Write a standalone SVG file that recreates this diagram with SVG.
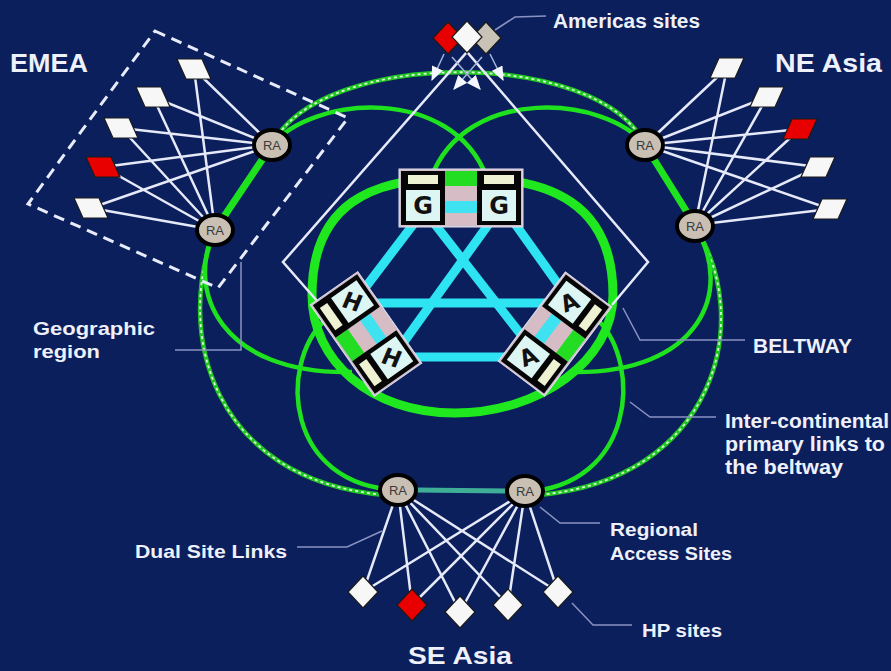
<svg xmlns="http://www.w3.org/2000/svg" width="891" height="671" viewBox="0 0 891 671">
<style>
.lbl{fill:#eef0fa;font-family:"Liberation Sans",Arial,sans-serif;font-weight:bold}
.ldr{stroke:#8a92c2;stroke-width:1.5;fill:none}
.lnk{stroke:#e6e9f8;stroke-width:2.5;fill:none;stroke-linecap:round}
.wl{stroke:#e6e9f8;stroke-width:2.5;fill:none}
.thin{stroke:#a4b4dc;stroke-width:1.5;fill:none}
.grn{stroke:#1fe21f;fill:none;stroke-width:4.5}
.thick{stroke:#1fe21f;fill:none;stroke-width:7;stroke-linecap:round}
.belt{stroke:#1fe81f;fill:none;stroke-width:9}
.dbase{stroke:#22c622;fill:none;stroke-width:4.5}
.ddot{stroke:#d4f8d4;fill:none;stroke-width:1.8;stroke-dasharray:3 3}
.cy{stroke:#2fe4f2;stroke-width:9;fill:none}
.ra ellipse{fill:#c9bfb3;stroke:#000;stroke-width:4}
.ra text{font-family:"Liberation Sans",Arial,sans-serif;font-size:13px;fill:#3a3a3a;text-anchor:middle}
.sw{fill:#f7f7f7;stroke:#1a1a1a;stroke-width:1.2}
.sr{fill:#e80000;stroke:#1a1a1a;stroke-width:1.2}
.sg{fill:#c9c2b6;stroke:#1a1a1a;stroke-width:1.2}
.let{font-family:"DejaVu Sans",sans-serif;font-weight:bold;font-size:24px;fill:#111;text-anchor:middle}
</style>
<defs>
 <polygon id="pe" points="-17,-10 8,-10 17,10 -8,10"/>
 <polygon id="pn" points="-8,-10 17,-10 8,10 -17,10"/>
 <polygon id="dm" points="0,-16 15,0 0,16 -15,0"/>
 <g id="stk">
  <rect x="-62" y="-29" width="124" height="58" fill="#cdbfcc" stroke="#e6e0ee" stroke-width="1"/>
  <rect x="-16" y="-27" width="32" height="15" fill="#22dd22"/>
  <rect x="-16" y="-12" width="32" height="15" fill="#d6bcc4"/>
  <rect x="-16" y="3" width="32" height="12" fill="#3ee2f0"/>
  <rect x="-16" y="15" width="32" height="12" fill="#d6bcc4"/>
  <rect x="-60" y="-27" width="44" height="54" fill="#050505"/>
  <rect x="-53" y="-23" width="30" height="9" fill="#eef2d2"/>
  <rect x="-55" y="-8" width="34" height="31" fill="#def6f3"/>
  <rect x="16" y="-27" width="44" height="54" fill="#050505"/>
  <rect x="23" y="-23" width="30" height="9" fill="#eef2d2"/>
  <rect x="21" y="-8" width="34" height="31" fill="#def6f3"/>
 </g>
 <marker id="ah" viewBox="0 0 12 10" refX="11" refY="5" markerWidth="15" markerHeight="12" markerUnits="userSpaceOnUse" orient="auto">
  <path d="M0,0 L12,5 L0,10 z" fill="#f4f6ff"/>
 </marker>
</defs>
<rect width="891" height="671" fill="#0b1f5c"/>

<g id="connectors">
 <g id="outer-ring">
  <path class="dbase" d="M272 145 C320 48 600 48 645 145"/>
  <path class="ddot" d="M272 145 C320 48 600 48 645 145"/>
  <path class="dbase" d="M215 230 C175 330 210 480 385 495"/>
  <path class="ddot" d="M215 230 C175 330 210 480 385 495"/>
  <path class="dbase" d="M695 227 C755 320 715 480 538 495"/>
  <path class="ddot" d="M695 227 C755 320 715 480 538 495"/>
 </g>
 <g id="regional-loops">
  <path class="grn" d="M272 145 C312 96 452 84 487 178"/>
  <path class="grn" d="M215 230 C185 290 220 375 352 372"/>
  <path class="grn" d="M645 145 C606 96 466 84 431 178"/>
  <path class="grn" d="M695 227 C735 290 700 375 570 372"/>
  <path class="grn" d="M398 490 C285 485 278 365 325 320"/>
  <path class="grn" d="M525 492 C635 485 642 365 598 320"/>
 </g>
 <path id="beltway" class="belt" d="M461 178 C370 176 312 205 312 295 C312 360 370 413 455 413 C540 413 613 360 613 295 C613 205 552 176 461 178 Z"/>
 <path class="thick" d="M272 145 L215 230"/>
 <path class="thick" d="M645 145 L695 225"/>
 <path d="M415 490 L508 491" stroke="#3fae96" stroke-width="5" fill="none"/>
 <g id="mesh">
  <path class="cy" d="M428 205 L352 305"/>
  <path class="cy" d="M416 200 L533 350"/>
  <path class="cy" d="M506 200 L398 350"/>
  <path class="cy" d="M498 200 L573 305"/>
  <path class="cy" d="M346 303 L575 303"/>
  <path class="cy" d="M386 357 L535 357"/>
 </g>
 <path class="wl" d="M318 302 L283 262 L467 52 L648 262 L612 305"/>
 <path class="thin" d="M444 54 L432 80" marker-end="url(#ah)"/>
 <path class="thin" d="M490 54 L503 80" marker-end="url(#ah)"/>
 <path class="thin" d="M452 57 L480 89" marker-end="url(#ah)"/>
 <path class="thin" d="M482 57 L454 89" marker-end="url(#ah)"/>
 <path class="lnk" d="M194 69L272 145M194 69L215 230M153 97L272 145M153 97L215 230M121 128L272 145M121 128L215 230M103 167L272 145M103 167L215 230M91 208L272 145M91 208L215 230"/>
 <path class="lnk" d="M727 68L645 145M727 68L695 225M767 97L645 145M767 97L695 225M800 129L645 145M800 129L695 225M818 167L645 145M818 167L695 225M830 209L645 145M830 209L695 225"/>
 <path class="lnk" d="M363 592L398 490M363 592L525 492M412 605L398 490M412 605L525 492M460 612L398 490M460 612L525 492M508 605L398 490M508 605L525 492M558 592L398 490M558 592L525 492"/>
</g>

<g id="emea-region">
 <polygon points="155,31 348,118 218,288 28,204" fill="none" stroke="#e8ecfa" stroke-width="3" stroke-dasharray="11 7"/>
</g>

<g id="hub-G" transform="translate(461,198)">
 <use href="#stk"/>
 <text class="let" x="-38" y="16">G</text>
 <text class="let" x="38" y="16">G</text>
</g>
<g id="hub-H" transform="translate(366,334) rotate(-125) scale(0.9,1)">
 <use href="#stk"/>
 <text class="let" x="-38" y="16" transform="rotate(145,-38,7.5)">H</text>
 <text class="let" x="38" y="16" transform="rotate(145,38,7.5)">H</text>
</g>
<g id="hub-A" transform="translate(555,334) rotate(127) scale(0.9,1)">
 <use href="#stk"/>
 <text class="let" x="-38" y="16" transform="rotate(-150,-38,7.5)">A</text>
 <text class="let" x="38" y="16" transform="rotate(-150,38,7.5)">A</text>
</g>

<g id="ra-emea-1" class="ra"><ellipse cx="272" cy="145" rx="18" ry="15"/><text x="272" y="150">RA</text></g>
<g id="ra-emea-2" class="ra"><ellipse cx="215" cy="230" rx="18" ry="15"/><text x="215" y="235">RA</text></g>
<g id="ra-ne-1" class="ra"><ellipse cx="645" cy="145" rx="18" ry="15"/><text x="645" y="150">RA</text></g>
<g id="ra-ne-2" class="ra"><ellipse cx="695" cy="226" rx="18" ry="15"/><text x="695" y="231">RA</text></g>
<g id="ra-se-1" class="ra"><ellipse cx="398" cy="490" rx="18" ry="15"/><text x="398" y="495">RA</text></g>
<g id="ra-se-2" class="ra"><ellipse cx="525" cy="491" rx="18" ry="15"/><text x="525" y="496">RA</text></g>

<g id="sites-emea">
 <use href="#pe" class="sw" x="194" y="69"/>
 <use href="#pe" class="sw" x="153" y="97"/>
 <use href="#pe" class="sw" x="121" y="128"/>
 <use href="#pe" class="sr" x="103" y="167"/>
 <use href="#pe" class="sw" x="91" y="208"/>
</g>
<g id="sites-ne">
 <use href="#pn" class="sw" x="727" y="68"/>
 <use href="#pn" class="sw" x="767" y="97"/>
 <use href="#pn" class="sr" x="800" y="129"/>
 <use href="#pn" class="sw" x="818" y="167"/>
 <use href="#pn" class="sw" x="830" y="209"/>
</g>
<g id="sites-se">
 <use href="#dm" class="sw" x="363" y="592"/>
 <use href="#dm" class="sr" x="412" y="605"/>
 <use href="#dm" class="sw" x="460" y="612"/>
 <use href="#dm" class="sw" x="508" y="605"/>
 <use href="#dm" class="sw" x="558" y="592"/>
</g>
<g id="sites-americas">
 <use href="#dm" class="sr" x="448" y="38"/>
 <use href="#dm" class="sg" x="486" y="38"/>
 <use href="#dm" class="sw" x="467" y="37"/>
</g>

<g id="leaders">
 <path class="ldr" d="M495 30 L515 17 L546 16"/>
 <path class="ldr" d="M241 262 L241 350 L175 350"/>
 <path class="ldr" d="M623 308 L640 340 L745 340"/>
 <path class="ldr" d="M630 402 L650 417 L716 417"/>
 <path class="ldr" d="M297 547 L347 547 L382 531"/>
 <path class="ldr" d="M540 507 L560 523 L600 523"/>
 <path class="ldr" d="M572 603 L593 625 L632 625"/>
</g>

<g id="labels">
 <text class="lbl" x="553" y="28" font-size="20" textLength="147" lengthAdjust="spacingAndGlyphs">Americas sites</text>
 <text class="lbl" x="10" y="72" font-size="25" textLength="78" lengthAdjust="spacingAndGlyphs">EMEA</text>
 <text class="lbl" x="775" y="72" font-size="25" textLength="107" lengthAdjust="spacingAndGlyphs">NE Asia</text>
 <text class="lbl" x="408" y="664" font-size="24" textLength="104" lengthAdjust="spacingAndGlyphs">SE Asia</text>
 <text class="lbl" x="33" y="335" font-size="19" textLength="122" lengthAdjust="spacingAndGlyphs">Geographic</text>
 <text class="lbl" x="33" y="358" font-size="19" textLength="67" lengthAdjust="spacingAndGlyphs">region</text>
 <text class="lbl" x="753" y="353" font-size="20" textLength="99" lengthAdjust="spacingAndGlyphs">BELTWAY</text>
 <text class="lbl" x="725" y="428" font-size="20" textLength="164" lengthAdjust="spacingAndGlyphs">Inter-continental</text>
 <text class="lbl" x="725" y="451" font-size="20" textLength="160" lengthAdjust="spacingAndGlyphs">primary links to</text>
 <text class="lbl" x="725" y="474" font-size="20" textLength="118" lengthAdjust="spacingAndGlyphs">the beltway</text>
 <text class="lbl" x="135" y="558" font-size="19" textLength="152" lengthAdjust="spacingAndGlyphs">Dual Site Links</text>
 <text class="lbl" x="610" y="536" font-size="19" textLength="88" lengthAdjust="spacingAndGlyphs">Regional</text>
 <text class="lbl" x="610" y="560" font-size="19" textLength="122" lengthAdjust="spacingAndGlyphs">Access Sites</text>
 <text class="lbl" x="642" y="637" font-size="19" textLength="80" lengthAdjust="spacingAndGlyphs">HP sites</text>
</g>
</svg>
